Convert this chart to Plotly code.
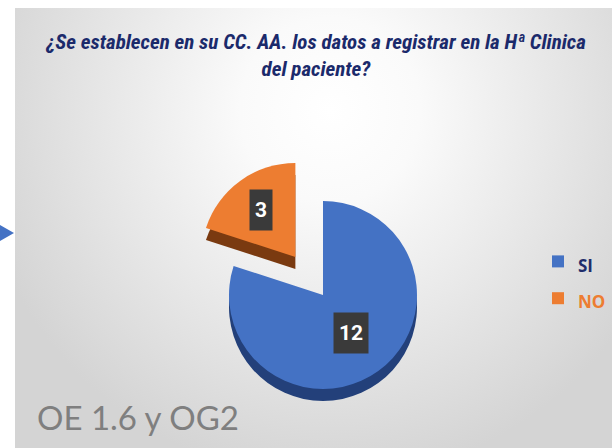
import math
import plotly.graph_objects as go

# ---- data ----
categories = ["SI", "NO"]
values = [12, 3]
colors = ["#4472C4", "#ED7D31"]
side_colors = ["#23407A", "#7A3A10"]
legend_text_colors = ["#1F2D6B", "#ED7D31"]
pulls = [0, 0.5]
title_lines = ["¿Se establecen en su CC. AA. los datos a registrar en la Hª Clinica", "del paciente?"]
footer_text = "OE 1.6 y OG2"

W, H = 612, 448
# pie geometry (pixels)
CX, CY, R = 323, 295, 94
DEPTH = 12
half = R * (1 + max(pulls))

def dom(cx, cy):
    return dict(x=[max(0, (cx - half) / W), min(1, (cx + half) / W)],
                y=[max(0, 1 - (cy + half) / H), min(1, 1 - (cy - half) / H)])

fig = go.Figure()

# background panel with radial gradient (colorscale 0 = centre)
gx0, gx1 = 330 - 360, 330 + 360
gy0, gy1 = 110 - 370, 110 + 370
fig.add_trace(go.Scatter(
    x=[gx0, gx1, gx1, gx0, gx0], y=[gy0, gy0, gy1, gy1, gy0],
    mode="lines", fill="toself", line=dict(width=0),
    fillgradient=dict(type="radial", colorscale=[[0, "#ffffff"], [0.25, "#fafafa"], [1, "#d4d4d4"]]),
    hoverinfo="skip", showlegend=False))

# 3D side (shadow) pie
fig.add_trace(go.Pie(
    labels=categories, values=values, sort=False, direction="clockwise", rotation=0,
    pull=pulls, marker=dict(colors=side_colors, line=dict(width=0)),
    textinfo="none", hoverinfo="skip", showlegend=False,
    domain=dom(CX, CY + DEPTH)))

legend_labels = [f"<span style='font-size:17px;color:{c}'><b>{t}</b></span>"
                 for t, c in zip(categories, legend_text_colors)]

fig.add_trace(go.Pie(
    labels=legend_labels, values=values, sort=False, direction="clockwise", rotation=0,
    pull=pulls, marker=dict(colors=colors, line=dict(width=0)),
    textinfo="none", hoverinfo="skip",
    domain=dom(CX, CY)))

# data labels placed at each slice's mid angle (computed from the values)
total = sum(values)
cum = 0
label_frac = [0.5, 0.62]
for v, p, f in zip(values, pulls, label_frac):
    mid = (cum + v / 2) / total * 2 * math.pi
    cum += v
    px = CX + (p + f) * R * math.sin(mid)
    py = CY - (p + f) * R * math.cos(mid)
    fig.add_annotation(
        x=px / W, y=1 - py / H, xref="paper", yref="paper", xanchor="center", yanchor="middle",
        text=f"<b>{v}</b>", showarrow=False,
        font=dict(family="Liberation Sans Narrow, Roboto, sans-serif", size=21, color="white"),
        bgcolor="#3A3A3A", height=36, width=12 * len(str(v)) + 6, borderpad=2)

fig.add_annotation(
    x=35 / W, y=1 - 439 / H, xref="paper", yref="paper", xanchor="left", yanchor="bottom",
    text=footer_text, showarrow=False,
    font=dict(family="Lato, Noto Sans, sans-serif", size=33, color="#7F7F7F"))

# small arrow fragment at the left edge
ax = [0, 14, 0]
ay = [225, 233, 241]
path = "M {} {} L {} {} L {} {} Z".format(ax[0] / W, 1 - ay[0] / H, ax[1] / W, 1 - ay[1] / H, ax[2] / W, 1 - ay[2] / H)
fig.add_shape(type="path", path=path, xref="paper", yref="paper",
              fillcolor="#4472C4", line=dict(width=0))

fig.update_layout(
    width=W, height=H, margin=dict(l=0, r=0, t=0, b=0, autoexpand=False),
    paper_bgcolor="white", plot_bgcolor="rgba(0,0,0,0)",
    xaxis=dict(domain=[15 / W, 1], range=[15, W], visible=False, fixedrange=True),
    yaxis=dict(domain=[0, 1 - 8 / H], range=[H, 8], visible=False, fixedrange=True),
    title=dict(text="<b><i>" + "<br>".join(title_lines) + "</i></b>",
               x=316 / W, xanchor="center", y=1 - 49 / H, yanchor="top",
               font=dict(family="Liberation Sans Narrow, Roboto Condensed, sans-serif", size=21, color="#1B2A6B")),
    legend=dict(x=538 / W, y=1 - 280 / H, xanchor="left", yanchor="middle",
                bgcolor="rgba(0,0,0,0)", font=dict(size=26), itemclick=False),
)

fig.write_html("out.html", config={"displayModeBar": False},
               post_script="document.body.style.margin='0';")
